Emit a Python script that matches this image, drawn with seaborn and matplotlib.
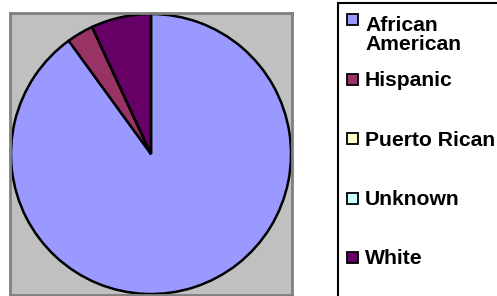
import matplotlib
matplotlib.use("Agg")
import matplotlib.pyplot as plt
import seaborn as sns
from matplotlib.patches import Rectangle

categories = ["African\nAmerican", "Hispanic", "Puerto Rican", "Unknown", "White"]
values = [90.0, 3.1, 0.0, 0.0, 6.9]
colors = ["#9999FF", "#993366", "#FFFFCC", "#CCFFFF", "#660066"]

sns.set_style("white")
plt.rcParams['font.family'] = ['Liberation Sans', 'DejaVu Sans']

W, H = 497, 296
fig = plt.figure(figsize=(W / 100, H / 100), dpi=100)
fig.patch.set_facecolor("white")


def fx(x):
    return x / W


def fy(y):
    return 1 - y / H


ax = fig.add_axes([fx(10), fy(295), 282 / W, 282 / H])
ax.pie(values, colors=colors, startangle=90, counterclock=False, frame=True,
       wedgeprops=dict(edgecolor="black", linewidth=1.8))
ax.set_facecolor("#C0C0C0")
ax.set_xlim(-1.007, 1.007)
ax.set_ylim(-1.007, 1.007)
ax.set_xticks([])
ax.set_yticks([])
for s in ax.spines.values():
    s.set_visible(True)
    s.set_color("#808080")
    s.set_linewidth(2)

# legend box
fig.add_artist(Rectangle((fx(338), fy(300)), 200 / W, 297.5 / H, transform=fig.transFigure,
                         facecolor="white", edgecolor="black", linewidth=1.5))
line_h = 24
for i, (lab, col) in enumerate(zip(categories, colors)):
    yc = 19.5 + 59.5 * i
    fig.add_artist(Rectangle((fx(347), fy(yc + 5.5)), 11 / W, 11 / H, transform=fig.transFigure,
                             facecolor=col, edgecolor="black", linewidth=1.3))
    nlines = lab.count("\n") + 1
    fig.text(fx(365), fy(yc + 7 + (nlines - 1) * line_h), lab, fontsize=15.2, fontweight="bold",
             va="baseline", ha="left", linespacing=1.05, color="black")

fig.savefig("out.png", dpi=100)
